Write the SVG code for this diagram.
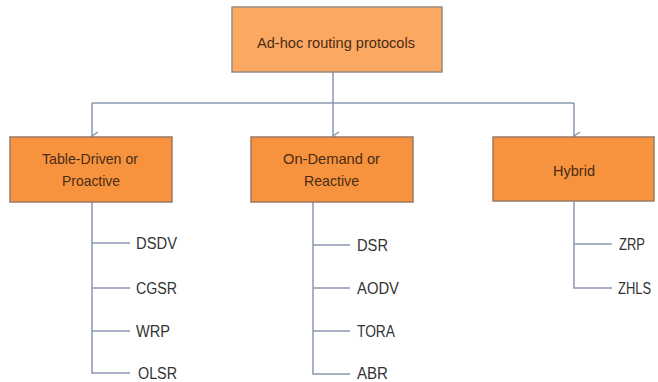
<svg xmlns="http://www.w3.org/2000/svg" width="658" height="382" viewBox="0 0 658 382">
  <style>
    .box { fill: #f7933f; stroke: #9a7a66; stroke-width: 1.5; }
    .root { fill: #fba862; stroke: #9a8a80; stroke-width: 1.5; }
    .lbl { font-family: "Liberation Sans", Arial, sans-serif; font-size: 15px; fill: #4a2c14; text-anchor: middle; }
    .leaf { font-family: "Liberation Sans", Arial, sans-serif; font-size: 16px; fill: #333333; }
    .wire { fill: none; stroke: #8a98b0; stroke-width: 1.5; }
    .head { fill: none; stroke: #8a98b0; stroke-width: 1.5; }
  </style>
  <defs>
    <marker id="arrow" markerWidth="10" markerHeight="10" refX="5" refY="8" orient="auto" markerUnits="userSpaceOnUse" viewBox="0 0 10 10">
      <path d="M1,2 L5,8 L9,2" class="head"/>
    </marker>
  </defs>
  <rect width="658" height="382" fill="#ffffff"/>

  <!-- connectors -->
  <g id="connectors">
    <path class="wire" d="M333,72 V103"/>
    <path class="wire" d="M92,103 H574"/>
    <path class="wire" d="M92,103 V136" marker-end="url(#arrow)"/>
    <path class="wire" d="M333,103 V136" marker-end="url(#arrow)"/>
    <path class="wire" d="M574,103 V136" marker-end="url(#arrow)"/>

    <!-- table-driven branch -->
    <path class="wire" d="M92,202 V373 H130"/>
    <path class="wire" d="M92,243 H130 M92,288 H130 M92,331 H130"/>

    <!-- on-demand branch -->
    <path class="wire" d="M313,202 V374 H350"/>
    <path class="wire" d="M313,245 H350 M313,288 H350 M313,331 H350"/>

    <!-- hybrid branch -->
    <path class="wire" d="M574,201 V288 H612"/>
    <path class="wire" d="M574,244 H612"/>
  </g>

  <g id="root">
    <rect class="root" x="232" y="7" width="210" height="65"/>
    <text class="lbl" x="336" y="47.5" textLength="158" lengthAdjust="spacingAndGlyphs">Ad-hoc routing protocols</text>
  </g>

  <g id="table-driven">
    <rect class="box" x="10" y="137" width="162" height="65"/>
    <text class="lbl" x="90" y="163.5" textLength="96" lengthAdjust="spacingAndGlyphs">Table-Driven or</text>
    <text class="lbl" x="91" y="185.5" textLength="58" lengthAdjust="spacingAndGlyphs">Proactive</text>
  </g>

  <g id="on-demand">
    <rect class="box" x="251" y="137" width="162" height="65"/>
    <text class="lbl" x="331.5" y="163.5" textLength="97" lengthAdjust="spacingAndGlyphs">On-Demand or</text>
    <text class="lbl" x="331.5" y="185.5" textLength="55" lengthAdjust="spacingAndGlyphs">Reactive</text>
  </g>

  <g id="hybrid">
    <rect class="box" x="493" y="137" width="161" height="64"/>
    <text class="lbl" x="574" y="175.5" textLength="42" lengthAdjust="spacingAndGlyphs">Hybrid</text>
  </g>

  <g id="dsdv"><text class="leaf" x="136" y="249" textLength="41" lengthAdjust="spacingAndGlyphs">DSDV</text></g>
  <g id="cgsr"><text class="leaf" x="136" y="294" textLength="41" lengthAdjust="spacingAndGlyphs">CGSR</text></g>
  <g id="wrp"><text class="leaf" x="136" y="337" textLength="34" lengthAdjust="spacingAndGlyphs">WRP</text></g>
  <g id="olsr"><text class="leaf" x="138" y="379" textLength="39" lengthAdjust="spacingAndGlyphs">OLSR</text></g>

  <g id="dsr"><text class="leaf" x="357" y="251" textLength="31" lengthAdjust="spacingAndGlyphs">DSR</text></g>
  <g id="aodv"><text class="leaf" x="357" y="294" textLength="42" lengthAdjust="spacingAndGlyphs">AODV</text></g>
  <g id="tora"><text class="leaf" x="357" y="337" textLength="38" lengthAdjust="spacingAndGlyphs">TORA</text></g>
  <g id="abr"><text class="leaf" x="357" y="379" textLength="31" lengthAdjust="spacingAndGlyphs">ABR</text></g>

  <g id="zrp"><text class="leaf" x="619" y="250" textLength="26" lengthAdjust="spacingAndGlyphs">ZRP</text></g>
  <g id="zhls"><text class="leaf" x="618" y="294" textLength="33" lengthAdjust="spacingAndGlyphs">ZHLS</text></g>
</svg>
